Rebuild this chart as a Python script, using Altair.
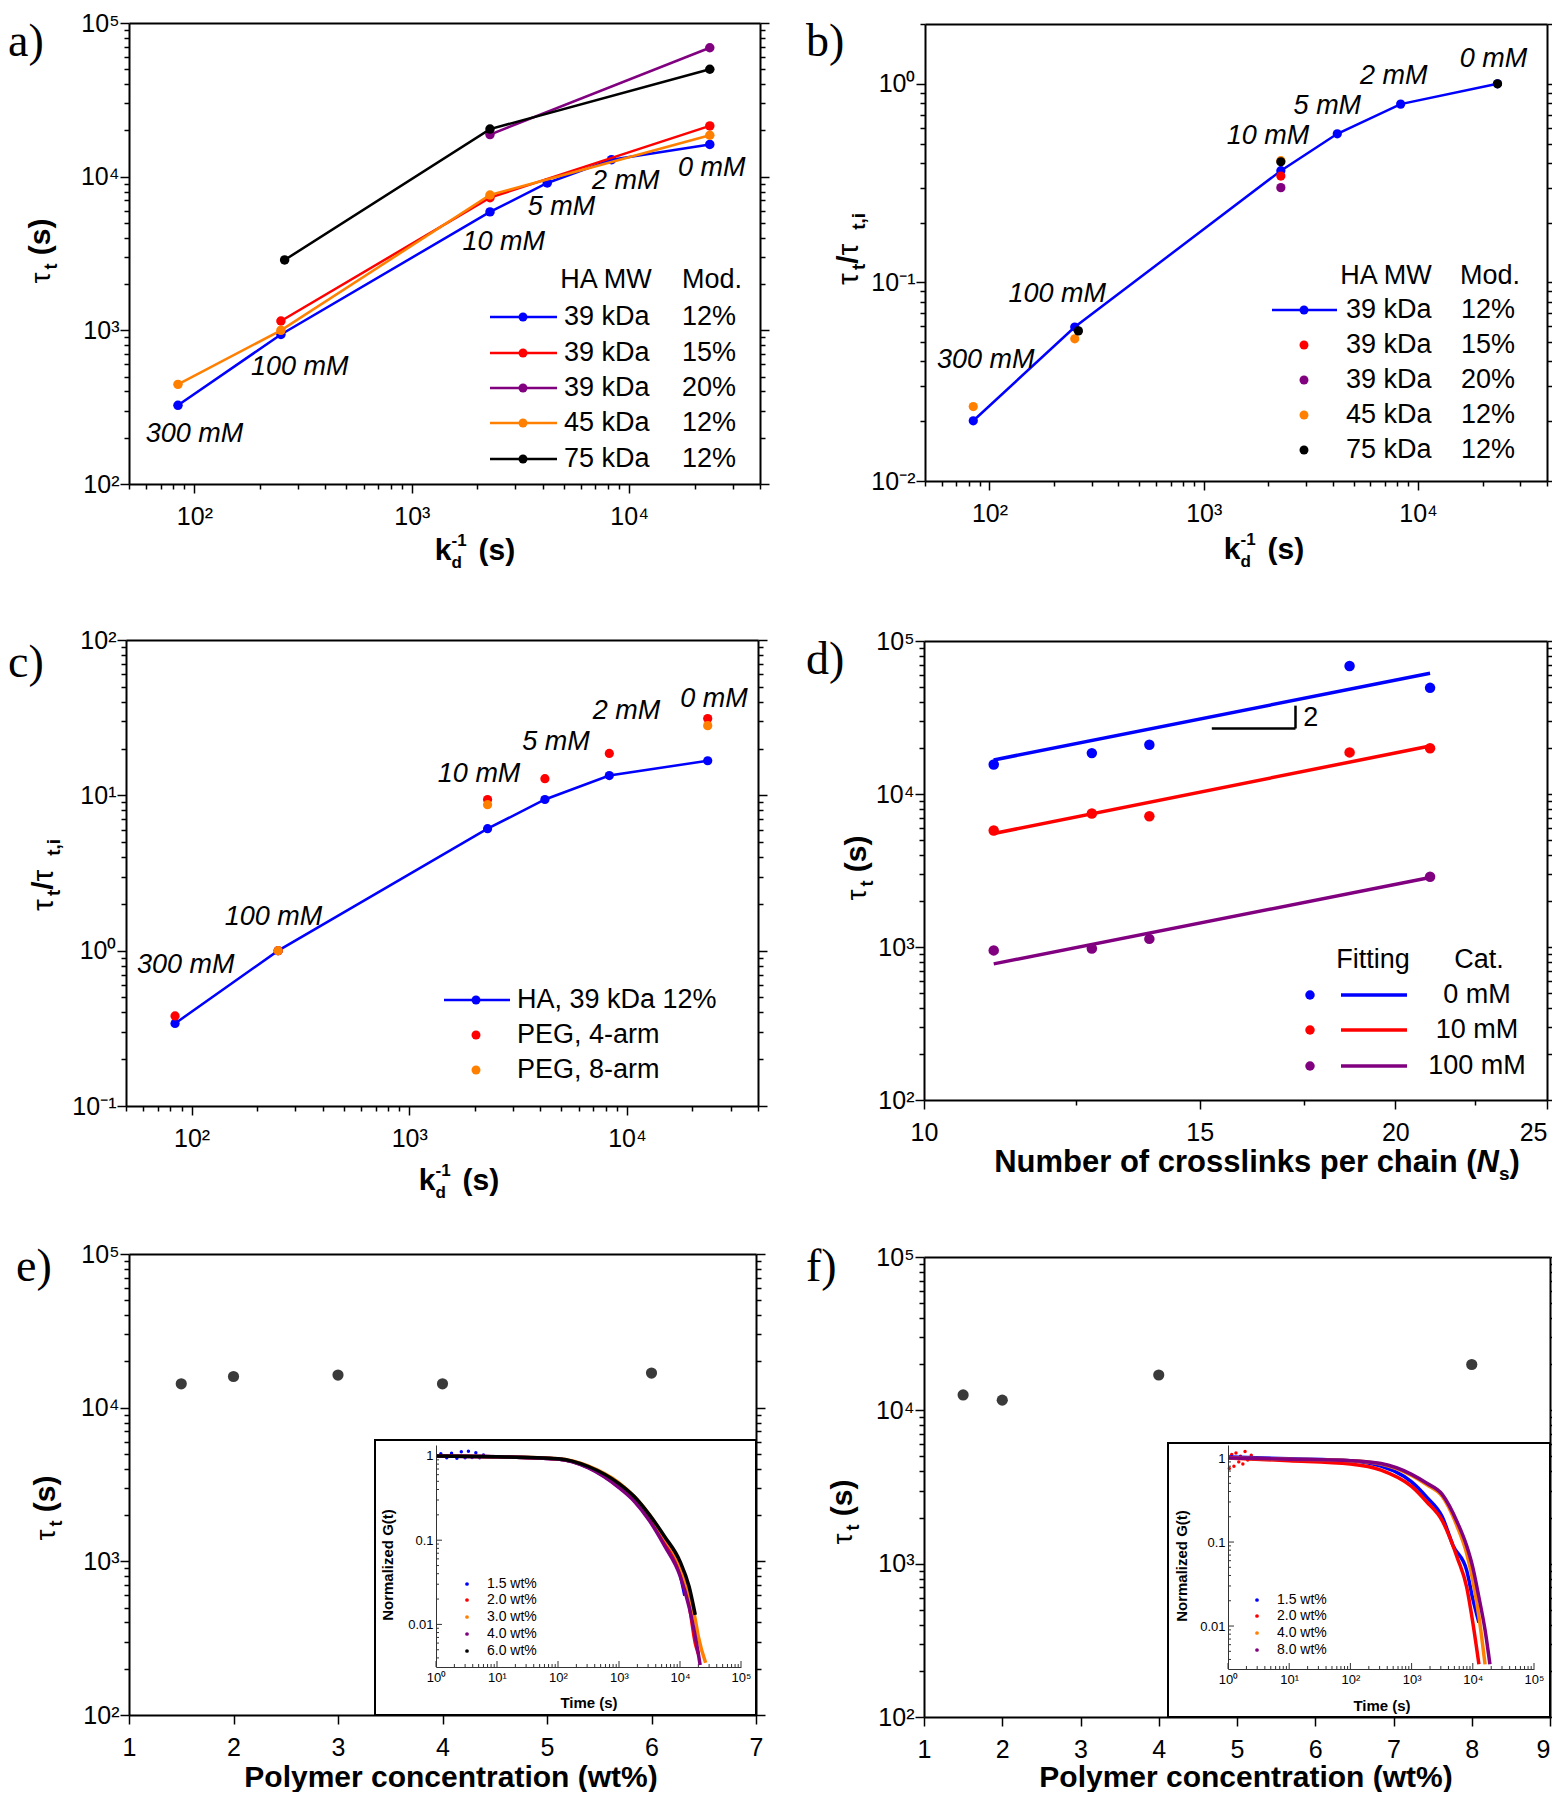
import math
import altair as alt
import pandas as pd

W, H = 1544, 1784
M = 8
FONT = "Liberation Sans"
SERIF = "Liberation Serif"
BLUE, RED, PURPLE, ORANGE, BLACK, GRAY = "#0000FF", "#FF0000", "#800080", "#FF8000", "#000000", "#3a3a3a"

# ---------------- data ----------------
# (a) tau_t vs k_d^-1
a_kd_39_12 = [84, 250, 2290, 4200, 8300, 23500]
a_tau_39_12 = [325, 940, 5900, 9100, 12900, 16200]
a_kd_39_15 = [250, 2290, 23500]
a_tau_39_15 = [1150, 7300, 21400]
a_kd_39_20 = [2290, 23500]
a_tau_39_20 = [18800, 69000]
a_kd_45_12 = [84, 250, 2290, 23500]
a_tau_45_12 = [445, 1000, 7600, 18600]
a_kd_75_12 = [260, 2290, 23500]
a_tau_75_12 = [2870, 20400, 50000]
salt_labels = ["300 mM", "100 mM", "10 mM", "5 mM", "2 mM", "0 mM"]
a_label_kd = [100, 305, 2650, 4880, 9640, 24000]
a_label_tau = [211, 578, 3760, 6360, 9350, 11350]
legend_mw = ["39 kDa", "39 kDa", "39 kDa", "45 kDa", "75 kDa"]
legend_mod = ["12%", "15%", "20%", "12%", "12%"]

# (b) normalised tau
b_kd_39_12 = [84, 250, 2290, 4200, 8300, 23500]
b_ratio_39_12 = [0.0201, 0.0596, 0.365, 0.56, 0.79, 1.0]
b_kd_39_15 = [2290]
b_ratio_39_15 = [0.343]
b_kd_39_20 = [2290]
b_ratio_39_20 = [0.30]
b_kd_45_12 = [84, 250, 2290]
b_ratio_45_12 = [0.0237, 0.052, 0.41]
b_kd_75_12 = [260, 2290, 23500]
b_ratio_75_12 = [0.057, 0.405, 1.0]
b_label_kd = [96, 207, 1995, 3775, 7700, 22500]
b_label_ratio = [0.0409, 0.087, 0.546, 0.771, 1.09, 1.34]

# (c) HA vs PEG
c_kd_ha = [84, 250, 2290, 4200, 8300, 23500]
c_ratio_ha = [0.34, 1.0, 6.1, 9.4, 13.4, 16.7]
c_kd_peg4 = [84, 250, 2290, 4200, 8300, 23500]
c_ratio_peg4 = [0.38, 1.0, 9.4, 12.8, 18.6, 31.2]
c_kd_peg8 = [250, 2290, 23500]
c_ratio_peg8 = [1.0, 8.7, 28.1]
c_label_kd = [94, 238, 2094, 4720, 9950, 25100]
c_label_ratio = [0.805, 1.64, 13.8, 22.1, 34.9, 41.5]
c_legend = ["HA, 39 kDa 12%", "PEG, 4-arm", "PEG, 8-arm"]

# (d) tau vs N_s
d_ns = [11.08, 12.8, 13.93, 18.7, 21.05]
d_tau_0mM = [15600, 18500, 21000, 68700, 49400]
d_tau_10mM = [5780, 7450, 7160, 18700, 19900]
d_ns_100 = [11.08, 12.8, 13.93, 21.05]
d_tau_100mM = [950, 977, 1130, 2880]
d_fit_ns = [11.08, 21.05]
d_fit_0mM = [16700, 61500]
d_fit_10mM = [5520, 20600]
d_fit_100mM = [776, 2845]
d_slope_ns = [15.27, 17.27]
d_slope_tau = [26800, 37800]
d_slope_text = [17.66, 31600]
d_legend = ["0 mM", "10 mM", "100 mM"]

# (e) tau vs concentration + inset
e_conc = [1.5, 2, 3, 4, 6]
e_tau = [14300, 15960, 16300, 14300, 16800]
e_t_15 = [1, 10, 100, 316, 1000, 1778, 3162, 5623, 10000, 12000]
e_G_15 = [1.0, 0.98, 0.92, 0.73, 0.43, 0.30, 0.18, 0.09, 0.04, 0.022]
e_t_20 = [1, 10, 100, 316, 1000, 1778, 3162, 5623, 10000, 14125, 17783, 19953]
e_G_20 = [1.0, 0.98, 0.92, 0.73, 0.43, 0.30, 0.18, 0.09, 0.04, 0.017, 0.006, 0.0045]
e_t_30 = [1, 10, 100, 316, 1000, 1778, 3162, 5623, 10000, 14125, 17783, 19953, 26300]
e_G_30 = [1.0, 0.98, 0.93, 0.76, 0.48, 0.33, 0.20, 0.105, 0.05, 0.022, 0.0115, 0.0072, 0.0035]
e_t_40 = [1, 10, 100, 316, 1000, 1778, 3162, 5623, 10000, 14125, 19953, 21400]
e_G_40 = [1.0, 0.98, 0.92, 0.72, 0.42, 0.29, 0.17, 0.085, 0.038, 0.016, 0.0045, 0.0033]
e_t_60 = [1, 10, 100, 316, 1000, 1778, 3162, 5623, 10000, 14125, 17783]
e_G_60 = [1.0, 0.98, 0.93, 0.75, 0.47, 0.33, 0.20, 0.11, 0.056, 0.028, 0.013]
e_noise_t = [1.2, 1.5, 1.8, 2.2, 2.6, 3.0, 3.4, 3.9, 4.5, 5.2, 6.0]
e_noise_G = [1.06, 0.95, 1.08, 0.94, 1.12, 0.95, 1.14, 0.96, 1.09, 0.95, 1.03]
e_legend = ["1.5 wt%", "2.0 wt%", "3.0 wt%", "4.0 wt%", "6.0 wt%"]

# (f) tau vs concentration + inset
f_conc = [1.5, 2, 4, 8]
f_tau = [12600, 11650, 17000, 19900]
f_t_15 = [1, 10, 100, 316, 1000, 1778, 3162, 4786, 7943, 10000, 12589]
f_G_15 = [1.03, 0.98, 0.93, 0.80, 0.52, 0.34, 0.20, 0.09, 0.046, 0.021, 0.011]
f_t_20 = [1, 10, 100, 316, 1000, 1778, 3162, 5623, 7943, 10000, 12589]
f_G_20 = [1.0, 0.93, 0.85, 0.72, 0.46, 0.30, 0.18, 0.064, 0.029, 0.011, 0.0035]
f_t_40 = [1, 10, 100, 316, 1000, 1778, 3162, 5623, 7943, 10000, 12589, 15849]
f_G_40 = [1.0, 0.97, 0.93, 0.85, 0.62, 0.48, 0.35, 0.15, 0.073, 0.035, 0.013, 0.0035]
f_t_80 = [1, 10, 100, 316, 1000, 1778, 3162, 5623, 7943, 10000, 12589, 15849, 19055]
f_G_80 = [1.0, 0.97, 0.93, 0.86, 0.64, 0.50, 0.37, 0.17, 0.09, 0.05, 0.022, 0.009, 0.0035]
f_noise_t = [1.05, 1.15, 1.25, 1.35, 1.5, 1.6, 1.75, 1.9, 2.1, 2.4]
f_noise_G = [0.75, 1.1, 0.8, 1.15, 0.9, 1.05, 0.85, 1.2, 0.95, 1.08]
f_legend = ["1.5 wt%", "2.0 wt%", "4.0 wt%", "8.0 wt%"]

# ---------------- helpers ----------------
SUP = str.maketrans("0123456789-", "⁰¹²³⁴⁵⁶⁷⁸⁹⁻")
MAJOR_LOG = "abs(log(datum.value)/LN10 - round(log(datum.value)/LN10)) < 0.001"
ONE = pd.DataFrame({"a": [0]})


def log_ticks(lo, hi):
    vals = []
    for e in range(math.floor(math.log10(lo)) - 1, math.ceil(math.log10(hi)) + 1):
        for m in range(1, 10):
            v = float(f"{m}e{e}")
            if lo * 0.999999 <= v <= hi * 1.000001:
                vals.append(v)
    return vals


def decade_expr(lo, hi):
    expr = "''"
    for e in range(math.ceil(math.log10(lo) - 1e-9), math.floor(math.log10(hi) + 1e-9) + 1):
        v = float(f"1e{e}")
        lab = "10" + str(e).translate(SUP)
        expr = f"abs(datum.value - {v!r}) < {v * 1e-6!r} ? '{lab}' : " + expr
    return expr


def axis(orient, offset, values=None, label_expr=None, labels=True, ticks=True,
         major_test=None, big=9, small=5, font_size=25, pad=11, zindex=0,
         dwidth=2, twidth=1.5, color="black", label_align=None):
    kw = dict(orient=orient, offset=offset, grid=False, title=None, domain=True,
              domainColor=color, domainWidth=dwidth, labels=labels, ticks=ticks,
              zindex=zindex)
    if values is not None:
        kw["values"] = values
    if labels:
        kw.update(labelFont=FONT, labelFontSize=font_size, labelColor="black",
                  labelPadding=pad, labelOverlap=False, labelFlush=False, labelBound=False)
        if label_expr:
            kw["labelExpr"] = label_expr
        if label_align:
            kw["labelAlign"] = label_align
    if ticks:
        kw.update(tickColor=color, tickWidth=twidth)
        if major_test:
            kw["tickSize"] = {"condition": {"test": major_test, "value": big}, "value": small}
        else:
            kw["tickSize"] = big
    return alt.Axis(**kw)


def lsc(dom, rng):
    return alt.Scale(type="log", domain=dom, range=rng, nice=False)


def linsc(dom, rng):
    return alt.Scale(type="linear", domain=dom, range=rng, nice=False, zero=False)


def scales(pg, xdom, ydom, xlog=True):
    x0, x1, y0, y1 = pg
    xs = lsc(xdom, [x0 - M, x1 - M]) if xlog else linsc(xdom, [x0 - M, x1 - M])
    ys = lsc(ydom, [y1 - M, y0 - M])
    return xs, ys


def frame_layers(pg, xsc, ysc, xdom, ydom, xvals, xexpr, xmajor, yvals, yexpr, ymajor,
                 lpad=1, bpad=11, xalign=None):
    x0, x1, y0, y1 = pg
    df = pd.DataFrame({"x": list(xdom), "y": list(ydom)})
    base = alt.Chart(df).mark_point(opacity=0)
    bl = base.encode(
        x=alt.X("x:Q", scale=xsc, axis=axis("bottom", (y1 - M) - H, xvals, xexpr,
                                            major_test=xmajor, pad=bpad, label_align=xalign)),
        y=alt.Y("y:Q", scale=ysc, axis=axis("left", -(x0 - M), yvals, yexpr,
                                            major_test=ymajor, pad=lpad)))
    tr = base.encode(
        x=alt.X("x:Q", scale=xsc, axis=axis("top", -(y0 - M), labels=False, ticks=False)),
        y=alt.Y("y:Q", scale=ysc, axis=axis("right", (x1 - M) - W, yvals, labels=False,
                                            major_test=ymajor)))
    return [bl, tr]


def series(xsc, ysc, xs, ys, color, line=True, size=90, sw=2.5, interp="linear"):
    df = pd.DataFrame({"x": xs, "y": ys})
    b = alt.Chart(df).encode(x=alt.X("x:Q", scale=xsc, axis=None),
                             y=alt.Y("y:Q", scale=ysc, axis=None))
    out = []
    if line:
        out.append(b.mark_line(color=color, strokeWidth=sw, interpolate=interp))
    if size:
        out.append(b.mark_circle(color=color, size=size, opacity=1))
    return out


def data_text(xsc, ysc, xs, ys, texts, size=27, style="italic", weight="normal"):
    df = pd.DataFrame({"x": xs, "y": ys, "t": texts})
    return alt.Chart(df).mark_text(font=FONT, fontSize=size, fontStyle=style, fontWeight=weight,
                                   align="center", baseline="middle", color="black").encode(
        x=alt.X("x:Q", scale=xsc, axis=None), y=alt.Y("y:Q", scale=ysc, axis=None), text="t:N")


# ---- free text (page coordinates) ----
REG = {c: 556 for c in "0123456789abdegnopqu"}
REG.update({" ": 278, ".": 278, ",": 278, "%": 889, "(": 333, ")": 333, "-": 333, "/": 278,
            "c": 500, "f": 278, "i": 222, "j": 222, "k": 500, "l": 222, "m": 833, "r": 333,
            "s": 500, "t": 278, "v": 500, "w": 722, "x": 500, "y": 500, "z": 500, "τ": 500})
BOLD = {c: 556 for c in "0123456789aceksy"}
BOLD.update({" ": 278, ".": 278, ",": 278, "%": 889, "(": 333, ")": 333, "-": 333, "/": 278,
             "b": 611, "d": 611, "f": 333, "h": 611, "i": 278, "l": 278, "m": 889, "n": 611,
             "o": 611, "p": 611, "r": 389, "t": 333, "u": 611, "w": 778, "z": 500, "N": 722,
             "P": 667, "τ": 500})


def twidth(s, size, bold):
    tab = BOLD if bold else REG
    return sum(tab.get(ch, 600) for ch in s) * size / 1000.0


TEXT_ROWS = []


def add_text(text, x, y, fs, weight="normal", style="normal", font=FONT, angle=0,
             align="left", baseline="alphabetic"):
    TEXT_ROWS.append(dict(text=text, x=x - M, y=y - M, fs=fs, weight=weight, style=style,
                          font=font, angle=angle, align=align, baseline=baseline))


def rich_h(pieces, cx, by):
    total = sum(twidth(t, s, w == "bold") for t, s, w, st, dy, adv in pieces if adv)
    x = cx - total / 2
    for t, s, w, st, dy, adv in pieces:
        lead = len(t) - len(t.lstrip(" "))
        x0 = x + lead * 278 * s / 1000.0
        add_text(t.lstrip(" "), x0, by + dy, s, w, st)
        if adv:
            x += twidth(t, s, w == "bold")


def rich_v(pieces, bx, cy):
    total = sum(twidth(t, s, w == "bold") for t, s, w, st, dy, adv in pieces if adv)
    y = cy + total / 2
    for t, s, w, st, dy, adv in pieces:
        lead = len(t) - len(t.lstrip(" "))
        y0 = y - lead * 278 * s / 1000.0
        add_text(t.lstrip(" "), bx + dy, y0, s, w, st, angle=270)
        if adv:
            y -= twidth(t, s, w == "bold")


LEG_LINES = []
LEG_DOTS = []


def leg_line(x1, x2, y, c, sw=2.5):
    LEG_LINES.append(dict(x1=x1 - M, x2=x2 - M, y=y - M, c=c, sw=sw))


def leg_dot(x, y, c, s=80):
    LEG_DOTS.append(dict(x=x - M, y=y - M, c=c, s=s))


# ---------------- panels ----------------
KD_LO, KD_HI = 50, 40000
KD_TICKS = log_ticks(KD_LO, KD_HI)
KD_EXPR = decade_expr(KD_LO, KD_HI)
TAU_TICKS = log_ticks(100, 1e5)
TAU_EXPR = decade_expr(100, 1e5)

panels = []

# (a)
PA = (129, 760, 23, 484)
xa, ya = scales(PA, [KD_LO, KD_HI], [100, 1e5])
LA = frame_layers(PA, xa, ya, [KD_LO, KD_HI], [100, 1e5], KD_TICKS, KD_EXPR, MAJOR_LOG,
                  TAU_TICKS, TAU_EXPR, MAJOR_LOG)
for xs_, ys_, c in [(a_kd_39_12, a_tau_39_12, BLUE), (a_kd_39_15, a_tau_39_15, RED),
                    (a_kd_39_20, a_tau_39_20, PURPLE), (a_kd_45_12, a_tau_45_12, ORANGE),
                    (a_kd_75_12, a_tau_75_12, BLACK)]:
    LA += series(xa, ya, xs_, ys_, c, size=90)
LA.append(data_text(xa, ya, a_label_kd, a_label_tau, salt_labels))
panels.append(alt.layer(*LA).resolve_axis(x="independent", y="independent"))

# (b)
PB = (925, 1547, 24, 481)
xb, yb = scales(PB, [KD_LO, KD_HI], [0.01, 2])
LB = frame_layers(PB, xb, yb, [KD_LO, KD_HI], [0.01, 2], KD_TICKS, KD_EXPR, MAJOR_LOG,
                  log_ticks(0.01, 2), decade_expr(0.01, 2), MAJOR_LOG)
LB += series(xb, yb, b_kd_39_12, b_ratio_39_12, BLUE, size=85)
for xs_, ys_, c in [(b_kd_39_15, b_ratio_39_15, RED), (b_kd_39_20, b_ratio_39_20, PURPLE),
                    (b_kd_45_12, b_ratio_45_12, ORANGE), (b_kd_75_12, b_ratio_75_12, BLACK)]:
    LB += series(xb, yb, xs_, ys_, c, line=False, size=85)
LB.append(data_text(xb, yb, b_label_kd, b_label_ratio, salt_labels))
panels.append(alt.layer(*LB).resolve_axis(x="independent", y="independent"))

# (c)
PC = (126, 758, 640, 1106)
xc, yc = scales(PC, [KD_LO, KD_HI], [0.1, 100])
LC = frame_layers(PC, xc, yc, [KD_LO, KD_HI], [0.1, 100], KD_TICKS, KD_EXPR, MAJOR_LOG,
                  log_ticks(0.1, 100), decade_expr(0.1, 100), MAJOR_LOG)
LC += series(xc, yc, c_kd_ha, c_ratio_ha, BLUE, size=85)
LC += series(xc, yc, c_kd_peg4, c_ratio_peg4, RED, line=False, size=85)
LC += series(xc, yc, c_kd_peg8, c_ratio_peg8, ORANGE, line=False, size=85)
LC.append(data_text(xc, yc, c_label_kd, c_label_ratio, salt_labels))
panels.append(alt.layer(*LC).resolve_axis(x="independent", y="independent"))

# (d)
PD = (924, 1547, 641, 1100)
xd, yd = scales(PD, [10, 25], [100, 1e5])
NS_TICKS = [10, 12.5, 15, 17.5, 20, 22.5, 25]
NS_MAJOR = "indexof([10, 15, 20, 25], datum.value) >= 0"
LD = frame_layers(PD, xd, yd, [10, 25], [100, 1e5], NS_TICKS,
                  NS_MAJOR + " ? format(datum.value, 'd') : ''", NS_MAJOR,
                  TAU_TICKS, TAU_EXPR, MAJOR_LOG,
                  xalign={"condition": {"test": "datum.value >= 25", "value": "right"},
                          "value": "center"})
for fy, c in [(d_fit_0mM, BLUE), (d_fit_10mM, RED), (d_fit_100mM, PURPLE)]:
    LD += series(xd, yd, d_fit_ns, fy, c, size=0, sw=3.5)
LD += series(xd, yd, d_ns, d_tau_0mM, BLUE, line=False, size=110)
LD += series(xd, yd, d_ns, d_tau_10mM, RED, line=False, size=110)
LD += series(xd, yd, d_ns_100, d_tau_100mM, PURPLE, line=False, size=110)
sl_h = pd.DataFrame({"x": [d_slope_ns[0]], "x2": [d_slope_ns[1]], "y": [d_slope_tau[0]]})
sl_v = pd.DataFrame({"x": [d_slope_ns[1]], "y": [d_slope_tau[0]], "y2": [d_slope_tau[1]]})
LD.append(alt.Chart(sl_h).mark_rule(color="black", strokeWidth=2.5).encode(
    x=alt.X("x:Q", scale=xd, axis=None), x2="x2:Q", y=alt.Y("y:Q", scale=yd, axis=None)))
LD.append(alt.Chart(sl_v).mark_rule(color="black", strokeWidth=2.5).encode(
    x=alt.X("x:Q", scale=xd, axis=None), y=alt.Y("y:Q", scale=yd, axis=None), y2="y2:Q"))
LD.append(data_text(xd, yd, [d_slope_text[0]], [d_slope_text[1]], ["2"], style="normal"))
panels.append(alt.layer(*LD).resolve_axis(x="independent", y="independent"))

# (e)
PE = (129, 756, 1254, 1715)
xe, ye = scales(PE, [1, 7], [100, 1e5], xlog=False)
LE = frame_layers(PE, xe, ye, [1, 7], [100, 1e5], list(range(1, 8)), None, None,
                  TAU_TICKS, TAU_EXPR, MAJOR_LOG)
LE += series(xe, ye, e_conc, e_tau, GRAY, line=False, size=125)
panels.append(alt.layer(*LE).resolve_axis(x="independent", y="independent"))

# (f)
PF = (924, 1550, 1257, 1717)
xf, yf = scales(PF, [1, 9], [100, 1e5], xlog=False)
LF = frame_layers(PF, xf, yf, [1, 9], [100, 1e5], list(range(1, 10)), None, None,
                  TAU_TICKS, TAU_EXPR, MAJOR_LOG,
                  xalign={"condition": {"test": "datum.value >= 9", "value": "right"},
                          "value": "center"})
LF += series(xf, yf, f_conc, f_tau, GRAY, line=False, size=125)
panels.append(alt.layer(*LF).resolve_axis(x="independent", y="independent"))


# ---------------- insets ----------------
def inset(box, pg, ydom, curves, noise):
    x0, x1, y0, y1 = pg
    ixs = lsc([1, 1e5], [x0 - M, x1 - M])
    iys = lsc(ydom, [y1 - M, y0 - M])
    L = [alt.Chart(ONE).mark_rect(fill="white", stroke="black", strokeWidth=2).encode(
        x=alt.value(box[0] - M), x2=alt.value(box[2] - M),
        y=alt.value(box[1] - M), y2=alt.value(box[3] - M))]
    df = pd.DataFrame({"x": [1, 1e5], "y": list(ydom)})
    L.append(alt.Chart(df).mark_point(opacity=0).encode(
        x=alt.X("x:Q", scale=ixs, axis=axis("bottom", (y1 - M) - H, [1, 10, 100, 1000, 1e4, 1e5],
                                            decade_expr(1, 1e5), ticks=False, font_size=13,
                                            pad=4, zindex=1, dwidth=1, color="#333333")),
        y=alt.Y("y:Q", scale=iys, axis=axis("left", -(x0 - M), [0.01, 0.1, 1],
                                            "datum.value > 0.5 ? '1' : (datum.value > 0.05 ? '0.1' : '0.01')",
                                            ticks=False, font_size=13, pad=3, zindex=1,
                                            dwidth=1, color="#333333"))))
    xt = log_ticks(1, 1e5)
    yt = log_ticks(ydom[0], ydom[1])
    for vals, ln in [([v for v in xt if abs(math.log10(v) - round(math.log10(v))) < 1e-6], 6),
                     ([v for v in xt if abs(math.log10(v) - round(math.log10(v))) >= 1e-6], 3)]:
        L.append(alt.Chart(pd.DataFrame({"v": vals})).mark_rule(color="#333333", strokeWidth=1).encode(
            x=alt.X("v:Q", scale=ixs, axis=None), y=alt.value(y1 - M), y2=alt.value(y1 - M - ln)))
    for vals, ln in [([v for v in yt if abs(math.log10(v) - round(math.log10(v))) < 1e-6], 6),
                     ([v for v in yt if abs(math.log10(v) - round(math.log10(v))) >= 1e-6], 3)]:
        L.append(alt.Chart(pd.DataFrame({"v": vals})).mark_rule(color="#333333", strokeWidth=1).encode(
            y=alt.Y("v:Q", scale=iys, axis=None), x=alt.value(x0 - M), x2=alt.value(x0 - M + ln)))
    for ts, gs, c in noise:
        L += series(ixs, iys, ts, gs, c, line=False, size=12)
    for ts, gs, c in curves:
        L += series(ixs, iys, ts, gs, c, size=0, sw=3.5, interp="monotone")
    return alt.layer(*L).resolve_axis(x="independent", y="independent")


panels.append(inset((375, 1440, 756, 1715), (436, 741, 1445, 1667), [0.00312, 1.35],
                    [(e_t_15, e_G_15, BLUE), (e_t_20, e_G_20, RED), (e_t_30, e_G_30, ORANGE),
                     (e_t_40, e_G_40, PURPLE), (e_t_60, e_G_60, BLACK)],
                    [(e_noise_t, e_noise_G, BLUE)]))
panels.append(inset((1168, 1443, 1550, 1717), (1228, 1534, 1445, 1669), [0.00308, 1.43],
                    [(f_t_15, f_G_15, BLUE), (f_t_20, f_G_20, RED), (f_t_40, f_G_40, ORANGE),
                     (f_t_80, f_G_80, PURPLE)],
                    [(f_noise_t, f_noise_G, RED)]))

# ---------------- text, legends ----------------
for lab, x, y in [("a)", 8, 56), ("b)", 806, 56), ("c)", 8, 677), ("d)", 806, 674),
                  ("e)", 16, 1281), ("f)", 806, 1281)]:
    add_text(lab, x, y, 46, font=SERIF)

KD = [("k", 30, "bold", "normal", 0, True), ("-1", 17, "bold", "normal", -14, False),
      ("d", 17, "bold", "normal", 8, True), ("  (s)", 30, "bold", "normal", 0, True)]
NS = [("Number of crosslinks per chain (", 31, "bold", "normal", 0, True),
      ("N", 31, "bold", "italic", 0, True), ("s", 19, "bold", "normal", 8, True),
      (")", 31, "bold", "normal", 0, True)]
POLY = [("Polymer concentration (wt%)", 30, "bold", "normal", 0, True)]
TAU_S = [("τ", 28, "normal", "normal", 0, True), ("t", 18, "bold", "normal", 7, True),
         (" (s)", 30, "bold", "normal", 0, True)]
TAU_R = [("τ", 30, "normal", "normal", 0, True), ("t", 19, "bold", "normal", 7, True),
         ("/", 30, "bold", "normal", 0, True), ("τ", 30, "normal", "normal", 0, True),
         ("  t,i", 19, "bold", "normal", 7, True)]
rich_h(KD, 475, 560)
rich_h(KD, 1264, 559)
rich_h(KD, 459, 1190)
rich_h(NS, 1257, 1172)
rich_h(POLY, 451, 1787)
rich_h(POLY, 1246, 1787)
rich_v(TAU_S, 50, 251)
rich_v(TAU_R, 858, 249)
rich_v(TAU_R, 53, 875)
rich_v(TAU_S, 866, 868)
rich_v(TAU_S, 55, 1508)
rich_v(TAU_S, 852, 1512)

COLS5 = [BLUE, RED, PURPLE, ORANGE, BLACK]
# legend a
add_text("HA MW", 606, 280, 27, align="center", baseline="middle")
add_text("Mod.", 712, 280, 27, align="center", baseline="middle")
for i, y in enumerate([317, 353, 388, 423, 459]):
    leg_line(490, 557, y, COLS5[i])
    leg_dot(523, y, COLS5[i], 80)
    add_text(legend_mw[i], 564, y, 27, baseline="middle")
    add_text(legend_mod[i], 682, y, 27, baseline="middle")
# legend b
add_text("HA MW", 1386, 276, 27, align="center", baseline="middle")
add_text("Mod.", 1490, 276, 27, align="center", baseline="middle")
for i, y in enumerate([310, 345, 380, 415, 450]):
    if i == 0:
        leg_line(1272, 1337, y, COLS5[i])
    leg_dot(1304, y, COLS5[i], 80)
    add_text(legend_mw[i], 1346, y, 27, baseline="middle")
    add_text(legend_mod[i], 1461, y, 27, baseline="middle")
# legend c
for i, (y, c) in enumerate(zip([1000, 1035, 1070], [BLUE, RED, ORANGE])):
    if i == 0:
        leg_line(444, 510, y, c)
    leg_dot(476, y, c, 80)
    add_text(c_legend[i], 517, y, 27, baseline="middle")
# legend d
add_text("Fitting", 1373, 960, 27, align="center", baseline="middle")
add_text("Cat.", 1479, 960, 27, align="center", baseline="middle")
for i, (y, c) in enumerate(zip([995, 1030, 1066], [BLUE, RED, PURPLE])):
    leg_dot(1310, y, c, 90)
    leg_line(1341, 1407, y, c, 3.5)
    add_text(d_legend[i], 1477, y, 27, align="center", baseline="middle")
# inset texts
add_text("Normalized G(t)", 388, 1565, 15, "bold", angle=270, align="center", baseline="middle")
add_text("Time (s)", 589, 1703, 15, "bold", align="center", baseline="middle")
add_text("Normalized G(t)", 1182, 1566, 15, "bold", angle=270, align="center", baseline="middle")
add_text("Time (s)", 1382, 1706, 15, "bold", align="center", baseline="middle")
for i, (y, c) in enumerate(zip([1584, 1600, 1617, 1634, 1651], [BLUE, RED, ORANGE, PURPLE, BLACK])):
    leg_dot(467, y, c, 14)
    add_text(e_legend[i], 487, y, 14, baseline="middle")
for i, (y, c) in enumerate(zip([1600, 1616, 1633, 1650], [BLUE, RED, ORANGE, PURPLE])):
    leg_dot(1257, y, c, 14)
    add_text(f_legend[i], 1277, y, 14, baseline="middle")

extra = []
ldf = pd.DataFrame(LEG_LINES)
extra.append(alt.Chart(ldf).mark_rule().encode(
    x=alt.X("x1:Q", scale=None, axis=None), x2="x2:Q", y=alt.Y("y:Q", scale=None, axis=None),
    color=alt.Color("c:N", scale=None), strokeWidth=alt.StrokeWidth("sw:Q", scale=None, legend=None)))
ddf = pd.DataFrame(LEG_DOTS)
extra.append(alt.Chart(ddf).mark_circle(opacity=1).encode(
    x=alt.X("x:Q", scale=None, axis=None), y=alt.Y("y:Q", scale=None, axis=None),
    color=alt.Color("c:N", scale=None), size=alt.Size("s:Q", scale=None, legend=None)))

tdf = pd.DataFrame(TEXT_ROWS)
for key, g in tdf.groupby(["font", "weight", "style", "angle", "align", "baseline"]):
    font, weight, style, angle, align, baseline = key
    g = g[["x", "y", "text", "fs"]].reset_index(drop=True)
    extra.append(alt.Chart(g).mark_text(font=font, fontWeight=weight, fontStyle=style,
                                        angle=float(angle), align=align, baseline=baseline,
                                        color="black").encode(
        x=alt.X("x:Q", scale=None, axis=None), y=alt.Y("y:Q", scale=None, axis=None),
        text="text:N", size=alt.Size("fs:Q", scale=None, legend=None)))

chart = alt.layer(*panels, *extra).resolve_scale(
    x="independent", y="independent").resolve_axis(
    x="independent", y="independent").properties(
    width=W, height=H, autosize=alt.AutoSizeParams(type="none"), padding=0,
    background="white").configure_view(stroke=None)

chart.save("out.html", embed_options={"renderer": "svg", "actions": False})
